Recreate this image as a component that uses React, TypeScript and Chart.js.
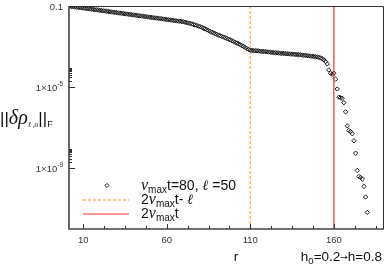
import { useEffect, useRef } from "react";
import { Chart, registerables } from "chart.js";
Chart.register(...registerables);

// ||δρ_{ℓ,o}||_F, one value per site r = 1, 2, 3, ...
const normValues = [
  0.100, 0.0975, 0.0949, 0.0925, 0.0901, 0.0878, 0.0855, 0.0833, 0.0812, 0.0791,
  0.0771, 0.0751, 0.0732, 0.0713, 0.0695, 0.0677, 0.0660, 0.0643, 0.0626, 0.0610,
  0.0594, 0.0579, 0.0564, 0.0550, 0.0536, 0.0522, 0.0508, 0.0495, 0.0483, 0.0470,
  0.0458, 0.0446, 0.0435, 0.0424, 0.0413, 0.0402, 0.0392, 0.0382, 0.0372, 0.0362,
  0.0353, 0.0344, 0.0335, 0.0327, 0.0318, 0.0310, 0.0302, 0.0294, 0.0287, 0.0279,
  0.0272, 0.0265, 0.0258, 0.0252, 0.0245, 0.0239, 0.0233, 0.0227, 0.0221, 0.0216,
  0.0210, 0.0205, 0.0199, 0.0194, 0.0189, 0.0184, 0.0180, 0.0175, 0.0170, 0.0166,
  0.0158, 0.0151, 0.0145, 0.0138, 0.0130, 0.0123, 0.0116, 0.0110, 0.0102, 0.00955,
  0.00891, 0.00813, 0.00741, 0.00676, 0.00617, 0.00562, 0.00513, 0.00468, 0.00432, 0.00398,
  0.00367, 0.00343, 0.00316, 0.00295, 0.00272, 0.00251, 0.00232, 0.00214, 0.00195, 0.00178,
  0.00162, 0.00148, 0.00135, 0.00122, 0.00110, 0.00100, 0.000891, 0.000794, 0.000708, 0.000661,
  0.000646, 0.000631, 0.000624, 0.000617, 0.000603, 0.000589, 0.000575, 0.000569, 0.000562, 0.000550,
  0.000537, 0.000525, 0.000513, 0.000501, 0.000495, 0.000490, 0.000479, 0.000468, 0.000462, 0.000457,
  0.000447, 0.000442, 0.000437, 0.000427, 0.000422, 0.000417, 0.000407, 0.000403, 0.000398, 0.000389,
  0.000380, 0.000372, 0.000363, 0.000355, 0.000347, 0.000339, 0.000331, 0.000324, 0.000316, 0.000309,
  0.000295, 0.000275, 0.000251, 0.000219, 0.000182, 1.39e-4, 7.0e-5, 4.8e-5, 4.3e-5, 4.8e-5,
  2.45e-5, 8.1e-6, 3.2e-6, 3.0e-6, 2.8e-6, 1.7e-6, 6.0e-7, 1.23e-7, 7.2e-8, 6.4e-8,
  5.0e-8, 2.24e-8, 5.5e-9, 7.7e-10, 3.9e-10, 3.5e-10, 2.9e-10, 1.26e-10, 3.8e-11, 6.6e-12,
];
const rValues = normValues.map((_, i) => i + 1);

const xMajorTicks = [10, 60, 110, 160];
const xMinorTicks = [22.5, 35, 47.5, 72.5, 85, 97.5, 122.5, 135, 147.5, 172.5, 185];
const yMajorTicks = [1e-1, 1e-5, 1e-9];
const yMajorLabels = [["0.1", ""], ["1×10", "-5"], ["1×10", "-9"]];
const yMinorMultipliers = [2, 3, 4, 5, 6, 7, 8, 9];
const yMinorDecades = [1e-5, 1e-9];

const lineLightConeMinusL = 110; // 2 v_max t - ℓ
const lineLightCone = 160; // 2 v_max t
const X_MIN = 1.5;
const X_MAX = 190;
const Y_MIN = 1e-12;
const Y_MAX = 1e-1;
const X_TITLE_AT = 101.5;

const ORANGE = "#FDB368";
const RED = "#F2322B";
const INK = "#1a1a1a";

type Run = { t: string; font: string; dy?: number };

function runsWidth(ctx: CanvasRenderingContext2D, runs: Run[]) {
  let w = 0;
  for (const r of runs) {
    ctx.font = r.font;
    w += ctx.measureText(r.t).width;
  }
  return w;
}

function drawRuns(
  ctx: CanvasRenderingContext2D,
  x: number,
  y: number,
  runs: Run[],
  align: "left" | "right" | "center" = "left"
) {
  const w = runsWidth(ctx, runs);
  let cx = align === "left" ? x : align === "right" ? x - w : x - w / 2;
  ctx.textAlign = "left";
  ctx.textBaseline = "alphabetic";
  for (const r of runs) {
    ctx.font = r.font;
    ctx.fillText(r.t, cx, y + (r.dy || 0));
    cx += ctx.measureText(r.t).width;
  }
}

const SANS = "'Liberation Sans', Arial, Helvetica, sans-serif";
const SERIF = "'Liberation Serif', 'Times New Roman', serif";

const decorPlugin = {
  id: "decor",
  afterDraw(chart: any) {
    const { ctx, chartArea, scales } = chart;
    const { left, top, right, bottom } = chartArea;
    const xs = scales.x;
    const ys = scales.y;
    ctx.save();

    // frame
    ctx.strokeStyle = "#333";
    ctx.lineWidth = 1;
    ctx.beginPath();
    ctx.moveTo(left, top + 0.5);
    ctx.lineTo(right - 0.5, top + 0.5);
    ctx.lineTo(right - 0.5, bottom);
    ctx.stroke();
    ctx.lineWidth = 1.6;
    ctx.strokeStyle = "#444";
    ctx.beginPath();
    ctx.moveTo(left, top);
    ctx.lineTo(left, bottom);
    ctx.lineTo(right, bottom);
    ctx.stroke();

    // ticks (inward)
    ctx.lineWidth = 1;
    ctx.strokeStyle = "#333";
    ctx.beginPath();
    for (const v of xMajorTicks) {
      const px = Math.round(xs.getPixelForValue(v)) + 0.5;
      ctx.moveTo(px, bottom);
      ctx.lineTo(px, bottom - 5);
    }
    for (const v of xMinorTicks) {
      const px = Math.round(xs.getPixelForValue(v)) + 0.5;
      ctx.moveTo(px, bottom);
      ctx.lineTo(px, bottom - 3);
    }
    for (const v of yMajorTicks) {
      const py = Math.round(ys.getPixelForValue(v)) + 0.5;
      ctx.moveTo(left, py);
      ctx.lineTo(left + 6, py);
    }
    for (const d of yMinorDecades) {
      for (const m of yMinorMultipliers) {
        const py = Math.round(ys.getPixelForValue(d * m)) + 0.5;
        ctx.moveTo(left, py);
        ctx.lineTo(left + 3, py);
      }
    }
    ctx.stroke();

    // tick labels
    ctx.fillStyle = "#333";
    const tf = `9.5px ${SANS}`;
    const sf = `6.5px ${SANS}`;
    for (const v of xMajorTicks) {
      drawRuns(ctx, xs.getPixelForValue(v), bottom + 14, [{ t: String(v), font: tf }], "center");
    }
    yMajorTicks.forEach((v, i) => {
      const py = ys.getPixelForValue(v);
      const [base, sup] = yMajorLabels[i];
      const runs: Run[] = [{ t: base, font: tf }];
      if (sup) runs.push({ t: sup, font: sf, dy: -5 });
      drawRuns(ctx, left - 6, py + 3.5, runs, "right");
    });

    // axis titles
    ctx.fillStyle = "#111";
    const big = `13.5px ${SANS}`;
    drawRuns(ctx, xs.getPixelForValue(X_TITLE_AT), bottom + 32, [{ t: "r", font: big }], "center");
    drawRuns(ctx, 382, bottom + 32, [
      { t: "h", font: big },
      { t: "0", font: `9.5px ${SANS}`, dy: 3 },
      { t: "=0.2", font: big },
      { t: "→", font: `9px 'DejaVu Sans', sans-serif`, dy: -1 },
      { t: "h=0.8", font: big },
    ], "right");

    drawRuns(ctx, 0, 124, [
      { t: "||", font: `17px ${SANS}` },
      { t: "δρ", font: `italic 20px ${SERIF}` },
      { t: "ℓ ,o", font: `italic 7.5px ${SERIF}`, dy: 3 },
      { t: "||", font: `17px ${SANS}` },
      { t: "F", font: `9px ${SANS}`, dy: 3 },
    ]);

    // legend
    const lx0 = 83;
    const lx1 = 129;
    const tx = 141;
    const lf = `14px ${SANS}`;
    const iv = `italic 16px ${SERIF}`;
    const il = `italic bold 14px ${SERIF}`;
    const sub = `10px ${SANS}`;
    ctx.strokeStyle = INK;
    ctx.lineWidth = 1;
    ctx.beginPath();
    const mx = 107, my = 185.5, mr = 2.1;
    ctx.moveTo(mx, my - mr);
    ctx.lineTo(mx + mr, my);
    ctx.lineTo(mx, my + mr);
    ctx.lineTo(mx - mr, my);
    ctx.closePath();
    ctx.stroke();
    ctx.strokeStyle = ORANGE;
    ctx.lineWidth = 1.5;
    ctx.setLineDash([3, 2]);
    ctx.beginPath();
    ctx.moveTo(lx0, 200);
    ctx.lineTo(lx1, 200);
    ctx.stroke();
    ctx.setLineDash([]);
    ctx.strokeStyle = RED;
    ctx.lineWidth = 1.2;
    ctx.beginPath();
    ctx.moveTo(lx0, 214);
    ctx.lineTo(lx1, 214);
    ctx.stroke();

    ctx.fillStyle = "#111";
    drawRuns(ctx, tx, 190, [
      { t: "v", font: iv },
      { t: "max", font: sub, dy: 3 },
      { t: "t=80, ", font: lf },
      { t: "ℓ", font: il },
      { t: " =50", font: lf },
    ]);
    drawRuns(ctx, tx, 204, [
      { t: "2", font: lf },
      { t: "v", font: iv },
      { t: "max", font: sub, dy: 3 },
      { t: "t- ", font: lf },
      { t: "ℓ", font: il },
    ]);
    drawRuns(ctx, tx, 218, [
      { t: "2", font: lf },
      { t: "v", font: iv },
      { t: "max", font: sub, dy: 3 },
      { t: "t", font: lf },
    ]);

    ctx.restore();
  },
};

export default function App() {
  const canvasRef = useRef<HTMLCanvasElement | null>(null);

  useEffect(() => {
    const canvas = canvasRef.current;
    if (!canvas) return;
    const chart = new Chart(canvas, {
      type: "scatter",
      data: {
        datasets: [
          {
            label: "vmax t=80, ℓ=50",
            data: rValues.map((r, i) => ({ x: r, y: normValues[i] })),
            pointStyle: "rectRot",
            pointRadius: 2.2,
            pointBorderWidth: 1,
            borderColor: INK,
            backgroundColor: "rgba(255,255,255,0)",
            showLine: false,
            order: 1,
          },
          {
            type: "line",
            label: "2vmax t - ℓ",
            data: [
              { x: lineLightConeMinusL, y: Y_MIN },
              { x: lineLightConeMinusL, y: Y_MAX },
            ],
            borderColor: ORANGE,
            borderWidth: 1.5,
            borderDash: [3, 2],
            pointRadius: 0,
            order: 2,
          } as any,
          {
            type: "line",
            label: "2vmax t",
            data: [
              { x: lineLightCone, y: Y_MIN },
              { x: lineLightCone, y: Y_MAX },
            ],
            borderColor: RED,
            borderWidth: 1.2,
            pointRadius: 0,
            order: 0,
          } as any,
        ],
      },
      options: {
        animation: false,
        responsive: false,
        maintainAspectRatio: false,
        layout: { padding: { left: 69, top: 6, right: 6, bottom: 47 } },
        plugins: { legend: { display: false }, tooltip: { enabled: false } },
        scales: {
          x: { type: "linear", min: X_MIN, max: X_MAX, display: false },
          y: { type: "logarithmic", min: Y_MIN, max: Y_MAX, display: false },
        },
      },
      plugins: [decorPlugin],
    });
    return () => chart.destroy();
  }, []);

  return (
    <div style={{ position: "fixed", left: 0, top: 0, width: 390, height: 276, background: "#fff" }}>
      <canvas ref={canvasRef} width={390} height={276} style={{ width: 390, height: 276 }} />
    </div>
  );
}
